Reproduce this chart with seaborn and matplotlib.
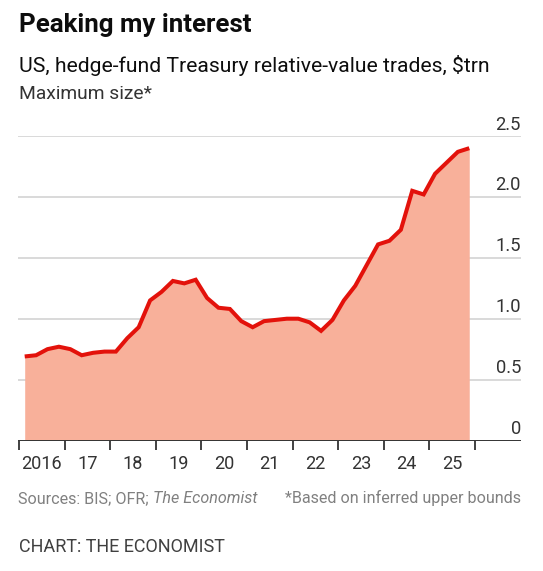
import numpy as np
import pandas as pd
import matplotlib
matplotlib.use("Agg")
import matplotlib.pyplot as plt
import matplotlib.transforms as mtransforms
import seaborn as sns

# Quarterly data, 2016Q1 - 2025Q4, $trn
quarters = [f"{y}Q{q}" for y in range(2016, 2026) for q in range(1, 5)]
max_size = [0.69, 0.70, 0.75, 0.77, 0.75, 0.70, 0.72, 0.73, 0.73, 0.84,
            0.93, 1.15, 1.22, 1.31, 1.29, 1.32, 1.17, 1.09, 1.08, 0.98,
            0.93, 0.98, 0.99, 1.00, 1.00, 0.97, 0.90, 0.99, 1.15, 1.27,
            1.44, 1.61, 1.64, 1.73, 2.05, 2.02, 2.19, 2.28, 2.37, 2.40]
year_labels = ["2016", "17", "18", "19", "20", "21", "22", "23", "24", "25"]
y_ticks = [0, 0.5, 1.0, 1.5, 2.0, 2.5]
y_tick_labels = ["0", "0.5", "1.0", "1.5", "2.0", "2.5"]

df = pd.DataFrame({"quarter": quarters, "value": max_size})
df["t"] = df["quarter"].apply(lambda s: int(s[:4]) + (int(s[-1]) - 0.5) / 4)

RED = "#E3120B"
FILL = "#F8B09A"
GRID = "#D0D0D0"
DARK = "#333333"

sns.set_theme(style="white")
plt.rcParams["font.family"] = ["Roboto", "DejaVu Sans"]

W, H = 543, 571
fig = plt.figure(figsize=(W / 100, H / 100), dpi=100)
ax = fig.add_axes([18 / W, 1 - 440.5 / H, (521 - 18) / W, (440.5 - 136) / H])

# Area + line
ax.fill_between(df["t"], df["value"], 0, color=FILL, linewidth=0, zorder=1)
sns.lineplot(data=df, x="t", y="value", color=RED, linewidth=2.9, ax=ax,
             zorder=3, solid_joinstyle="miter", solid_capstyle="butt")

ax.set_xlim(2015.978, 2027.01)
ax.set_ylim(0, 2.5)

# Gridlines
for v in y_ticks[1:]:
    ax.axhline(v, color=GRID, linewidth=1.1, zorder=0.5)
ax.axhline(0, color=DARK, linewidth=1.4, zorder=4)

# Y labels above gridlines at right
trans = mtransforms.blended_transform_factory(ax.transAxes, ax.transData)
for v, lab in zip(y_ticks, y_tick_labels):
    ax.text(1.0, v + 0.053, lab, transform=trans, ha="right", va="baseline",
            fontsize=13.2, color=DARK, zorder=5)

# X ticks: year boundaries, labels centred in each year
ax.set_xticks(np.arange(2016, 2027))
ax.set_xticklabels([])
ax.set_xticks(np.arange(2016, 2026) + 0.5, minor=True)
ax.set_xticklabels(year_labels, minor=True)
ax.tick_params(axis="x", which="major", length=6.5, width=1.3, color=DARK,
               direction="out", bottom=True)
ax.tick_params(axis="x", which="minor", length=0, pad=10.5, labelsize=13.1,
               labelcolor=DARK)
ax.set_yticks([])
ax.set_xlabel("")
ax.set_ylabel("")
for s in ax.spines.values():
    s.set_visible(False)
ax.set_facecolor("none")


def px(x, y):
    return x / W, 1 - y / H


fig.text(*px(19, 32), "Peaking my interest", fontsize=18.6, fontweight="bold",
         color="#0D0D0D", va="baseline")
fig.text(*px(19, 72), "US, hedge-fund Treasury relative-value trades, $trn",
         fontsize=15.2, color="#0D0D0D", va="baseline")
fig.text(*px(19, 99), "Maximum size*", fontsize=13.9, color="#333333",
         va="baseline")
src = fig.text(*px(18, 503), "Sources: BIS; OFR; ", fontsize=11.6,
               color="#808080", va="baseline")
fig.canvas.draw()
bb = src.get_window_extent()
fig.text(bb.x1 / W, 1 - 503 / H, "The Economist", fontsize=11.6,
         color="#808080", va="baseline", style="italic")
fig.text(*px(521, 503), "*Based on inferred upper bounds", fontsize=11.6,
         color="#808080", va="baseline", ha="right")
fig.text(*px(19, 552), "CHART: THE ECONOMIST", fontsize=13, color="#404040",
         va="baseline")

fig.savefig("out.png", dpi=100)
